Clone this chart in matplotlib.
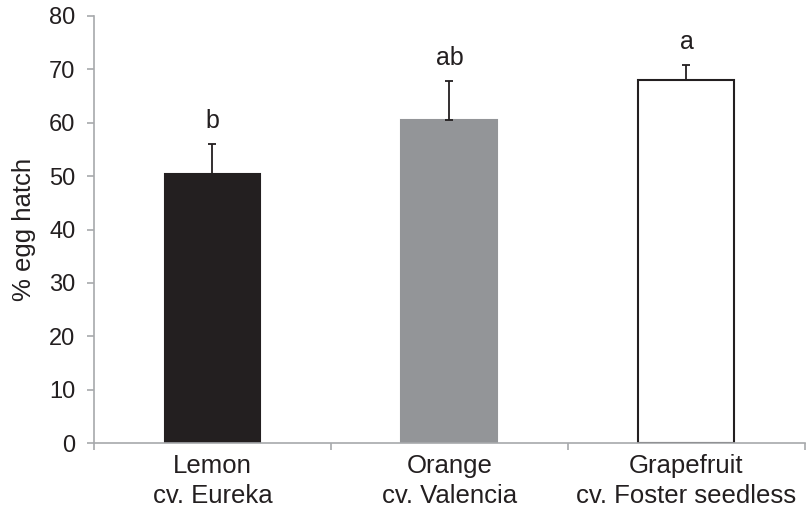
import numpy as np
import matplotlib
matplotlib.use('Agg')
import matplotlib.pyplot as plt

# dados
categorias = ['Lemon\ncv. Eureka', 'Orange\ncv. Valencia', 'Grapefruit\ncv. Foster seedless']
eclosao = [50.3, 60.5, 68.0]   # % egg hatch
erro = [5.7, 7.2, 2.7]         # so a parte de cima
letras = ['b', 'ab', 'a']
cores = ['#231f20', '#939598', '#ffffff']

plt.rcParams['font.family'] = ['Liberation Sans', 'DejaVu Sans']
escuro = '#231f20'
cinza = '#a7a9ac'

fig = plt.figure(figsize=(8.09, 5.14), dpi=100)
ax = fig.add_axes([0.1162, 0.1375, 0.995 - 0.1162, 0.9695 - 0.1375])

x = np.arange(len(categorias))
ax.bar(x, eclosao, width=0.405, color=cores, edgecolor=[cores[0], cores[1], escuro],
       linewidth=1.5, zorder=2)
ax.errorbar(x, eclosao, yerr=[np.zeros(len(erro)), erro], fmt='none', ecolor=escuro,
            elinewidth=1.3, capsize=2.8, capthick=1.3, zorder=3)

for i in range(len(x)):
    ax.text(x[i], eclosao[i] + erro[i] + 3, letras[i], ha='center', va='baseline',
            fontsize=18, color=escuro)

ax.set_xlim(-0.5, 2.5)
ax.set_ylim(0, 80)
ax.set_yticks(np.arange(0, 81, 10))

# ticks nas divisas das categorias, rotulos no meio (estilo Excel)
ax.set_xticks([-0.5, 0.5, 1.5, 2.5])
ax.set_xticklabels([])
ax.set_xticks(x, minor=True)
ax.set_xticklabels(categorias, minor=True, fontsize=18.5, color=escuro, linespacing=1.3)
ax.tick_params(axis='x', which='minor', length=0, pad=8)
ax.tick_params(axis='x', which='major', length=5, width=1.2, color=cinza)
ax.tick_params(axis='y', length=5, width=1.2, color=cinza, labelsize=17,
               labelcolor=escuro, pad=8.5)

for lado in ['top', 'right']:
    ax.spines[lado].set_visible(False)
for lado in ['left', 'bottom']:
    ax.spines[lado].set_color(cinza)
    ax.spines[lado].set_linewidth(1.2)

ax.set_ylabel('% egg hatch', fontsize=18.5, color=escuro, labelpad=9)

fig.savefig('out.png', dpi=100)
